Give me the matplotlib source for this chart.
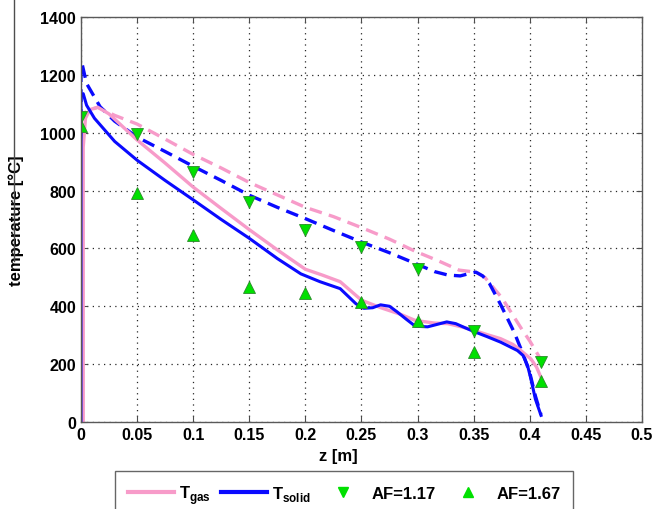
import matplotlib.pyplot as plt
from matplotlib.lines import Line2D

plt.rcParams['font.family'] = ['Liberation Sans', 'DejaVu Sans']
plt.rcParams['font.weight'] = 'bold'
plt.rcParams['mathtext.fontset'] = 'custom'
plt.rcParams['mathtext.rm'] = 'Liberation Sans:bold'
plt.rcParams['mathtext.bf'] = 'Liberation Sans:bold'

# gas temperature, AF=1.67 (solid pink)
z_gas_a = [0.002, 0.002, 0.004, 0.008, 0.015, 0.025, 0.05, 0.075, 0.1, 0.125, 0.15, 0.175,
           0.2, 0.215, 0.231, 0.25, 0.268, 0.285, 0.298, 0.315, 0.327, 0.34, 0.35, 0.362,
           0.374, 0.385, 0.392, 0.401, 0.406, 0.41]
t_gas_a = [0, 950, 1050, 1080, 1088, 1065, 975, 895, 812, 738, 665, 595,
           528, 508, 485, 421, 394, 372, 351, 342, 340, 328, 317, 302,
           288, 268, 247, 218, 190, 154]

# solid temperature, AF=1.67 (solid blue)
z_sol_a = [0.0, 0.0, 0.002, 0.005, 0.012, 0.03, 0.05, 0.075, 0.1, 0.125, 0.15, 0.175,
           0.196, 0.213, 0.231, 0.245, 0.252, 0.26, 0.267, 0.275, 0.282, 0.29, 0.298,
           0.309, 0.318, 0.326, 0.334, 0.341, 0.35, 0.362, 0.374, 0.389, 0.394,
           0.398, 0.401, 0.405, 0.41]
t_sol_a = [0, 1130, 1135, 1095, 1050, 970, 905, 835, 768, 700, 635, 565,
           512, 485, 461, 409, 393, 395, 405, 400, 380, 355, 331,
           329, 338, 346, 340, 328, 313, 295, 276, 247, 230,
           195, 149, 79, 23]

# gas temperature, AF=1.17 (dashed pink)
z_gas_b = [0.0, 0.0, 0.005, 0.015, 0.03, 0.05, 0.075, 0.1, 0.125, 0.15, 0.175, 0.2,
           0.225, 0.25, 0.275, 0.298, 0.318, 0.337, 0.352, 0.36, 0.367, 0.375, 0.385,
           0.393, 0.4, 0.41]
t_gas_b = [0, 1050, 1075, 1088, 1060, 1030, 978, 925, 878, 828, 785, 742,
           710, 672, 632, 590, 558, 525, 518, 500, 467, 430, 369,
           320, 280, 215]

# solid temperature, AF=1.17 (dashed blue)
z_sol_b = [0.0, 0.0, 0.001, 0.005, 0.017, 0.03, 0.05, 0.075, 0.1, 0.125, 0.15, 0.175,
           0.2, 0.225, 0.25, 0.275, 0.298, 0.315, 0.327, 0.338, 0.345, 0.352, 0.358,
           0.364, 0.374, 0.386, 0.394, 0.4, 0.405, 0.41]
t_sol_b = [0, 1230, 1238, 1170, 1090, 1040, 985, 935, 884, 835, 784, 742,
           703, 662, 622, 585, 548, 520, 508, 505, 512, 518, 505,
           479, 406, 311, 235, 170, 90, 25]

# measurements
z_meas = [0.0, 0.05, 0.1, 0.15, 0.2, 0.25, 0.3, 0.35, 0.41]
t_meas_117 = [1055, 995, 865, 760, 665, 605, 528, 313, 209]
t_meas_167 = [1022, 790, 645, 465, 445, 415, 348, 242, 140]

xticks = [0, 0.05, 0.1, 0.15, 0.2, 0.25, 0.3, 0.35, 0.4, 0.45, 0.5]
xtick_labels = ['0', '0.05', '0.1', '0.15', '0.2', '0.25', '0.3', '0.35', '0.4', '0.45', '0.5']
yticks = [0, 200, 400, 600, 800, 1000, 1200, 1400]

pink = '#f79bc9'
blue = '#0a0aff'
green = '#00e000'

fig = plt.figure(figsize=(6.67, 5.10), dpi=100)
ax = fig.add_axes([0.1214, 0.1706, 0.8411, 0.7941])

ax.plot(z_gas_b, t_gas_b, color=pink, lw=2.4, dashes=(3.8, 2.2))
ax.plot(z_sol_b, t_sol_b, color=blue, lw=2.4, dashes=(3.8, 2.2))
ax.plot(z_gas_a, t_gas_a, color=pink, lw=2.4)
ax.plot(z_sol_a, t_sol_a, color=blue, lw=2.2)
ax.plot(z_meas, t_meas_117, ls='none', marker='v', ms=8, mfc=green, mec='#2a8a2a', mew=0.6)
ax.plot(z_meas, t_meas_167, ls='none', marker='^', ms=8, mfc=green, mec='#2a8a2a', mew=0.6)

ax.set_xlim(0, 0.5)
ax.set_ylim(0, 1400)
ax.set_xticks(xticks)
ax.set_xticklabels(xtick_labels)
ax.set_yticks(yticks)
ax.tick_params(direction='in', length=4, labelsize=11.5, top=True, right=True, color='0.3')
ax.grid(True, color='0.15', ls=(0, (1, 3.5)), lw=0.9)
for s in ax.spines.values():
    s.set_color('0.35')
    s.set_linewidth(1.0)

ax.set_xlabel('z [m]', fontsize=12, fontweight='bold')
ax.xaxis.set_label_coords(0.458, -0.065)
ax.set_ylabel('temperature [°C]', fontsize=12, fontweight='bold')
ax.yaxis.set_label_coords(-0.102, 0.5)

handles = [
    Line2D([], [], color=pink, lw=3),
    Line2D([], [], color=blue, lw=3),
    Line2D([], [], ls='none', marker='v', ms=7, mfc=green, mec=green),
    Line2D([], [], ls='none', marker='^', ms=7, mfc=green, mec=green),
]
labels = ['T$_{\\mathrm{gas}}$', 'T$_{\\mathrm{solid}}$', 'AF=1.17', 'AF=1.67']
leg = fig.legend(handles, labels, loc='upper center', bbox_to_anchor=(0.516, 0.075),
                 ncol=4, fontsize=12, frameon=True, fancybox=False, handlelength=2.75,
                 handletextpad=0.3, columnspacing=0.6, borderpad=0.75, borderaxespad=0,
                 edgecolor='0.25')
leg.get_frame().set_linewidth(1.0)

# thin stray line at the left edge of the picture
fig.add_artist(Line2D([14 / 667, 14 / 667], [1.0, 1 - 262 / 510], color='0.3', lw=1.0))

fig.savefig('out.png', dpi=100)
